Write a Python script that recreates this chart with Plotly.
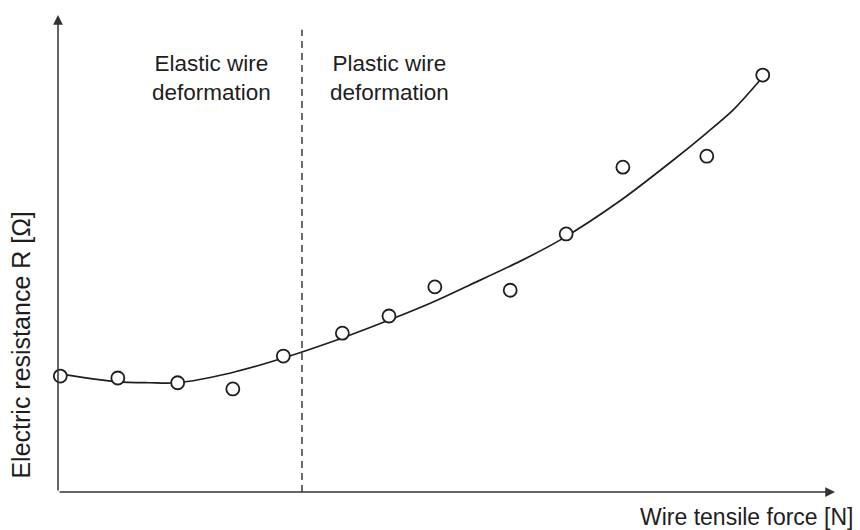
import plotly.graph_objects as go

# Measured resistance vs. tensile force (arbitrary units)
force = [0.03, 0.77, 1.54, 2.25, 2.90, 3.66, 4.26, 4.85, 5.82, 6.54, 7.27, 8.35, 9.07]
resistance = [2.43, 2.39, 2.29, 2.16, 2.85, 3.33, 3.69, 4.30, 4.23, 5.41, 6.81, 7.04, 8.74]

# Trend curve through the measurements
trend_force = [0.04, 0.76, 1.18, 1.53, 2.21, 2.90, 3.66, 4.27, 4.85, 5.30, 5.95,
               6.46, 7.23, 7.92, 8.35, 8.69, 9.07]
trend_resistance = [2.47, 2.31, 2.29, 2.29, 2.49, 2.81, 3.23, 3.61, 4.00, 4.34, 4.84,
                    5.28, 6.10, 6.96, 7.53, 8.01, 8.70]

# Boundary between elastic and plastic deformation
yield_force = 3.14
yield_top = 9.69

INK = "#1e1e1e"
FONT = "Liberation Sans, Arial, sans-serif"

fig = go.Figure()

fig.add_trace(go.Scatter(
    x=trend_force, y=trend_resistance, mode="lines",
    line=dict(color=INK, width=1.7, shape="spline", smoothing=0.8),
    hoverinfo="skip", showlegend=False, cliponaxis=False,
))

fig.add_trace(go.Scatter(
    x=force, y=resistance, mode="markers",
    marker=dict(symbol="circle", size=13, color="white",
                line=dict(color=INK, width=1.8)),
    showlegend=False, cliponaxis=False,
))

fig.add_shape(type="line", x0=yield_force, x1=yield_force, y0=0, y1=yield_top,
              xref="x", yref="y", line=dict(color=INK, width=1.3, dash="7px,5px"))

# Axes drawn as arrows
fig.add_annotation(x=10, y=0, ax=0, ay=0, xref="x", yref="y", axref="x", ayref="y",
                   text="", showarrow=True, arrowhead=2, arrowsize=1.3,
                   arrowwidth=1.5, arrowcolor="#333333", standoff=0)
fig.add_annotation(x=0, y=10, ax=0, ay=0, xref="x", yref="y", axref="x", ayref="y",
                   text="", showarrow=True, arrowhead=2, arrowsize=1.3,
                   arrowwidth=1.5, arrowcolor="#333333", standoff=0)

fig.add_annotation(x=1.98, y=8.68, xref="x", yref="y", showarrow=False,
                   text="Elastic wire<br>deformation", align="center",
                   font=dict(family=FONT, size=22.5, color=INK))
fig.add_annotation(x=4.27, y=8.68, xref="x", yref="y", showarrow=False,
                   text="Plastic wire<br>deformation", align="center",
                   font=dict(family=FONT, size=22.5, color=INK))

fig.add_annotation(x=1.0257, y=-0.0524, xref="paper", yref="paper", showarrow=False,
                   text="Wire tensile force [N]", xanchor="right", yanchor="middle",
                   font=dict(family=FONT, size=23, color=INK))
fig.add_annotation(x=-0.047, y=0.308, xref="paper", yref="paper", showarrow=False,
                   text="Electric resistance R [Ω]", textangle=-90,
                   xanchor="center", yanchor="middle",
                   font=dict(family=FONT, size=25, color=INK))

axis_style = dict(range=[0, 10], showgrid=False, zeroline=False, showline=False,
                  showticklabels=False, ticks="", fixedrange=True)
fig.update_layout(
    width=860, height=530,
    margin=dict(l=58, r=25, t=15, b=38),
    paper_bgcolor="white", plot_bgcolor="white",
    xaxis=axis_style, yaxis=axis_style,
    font=dict(family=FONT, color=INK),
)

fig.write_html("out.html")
